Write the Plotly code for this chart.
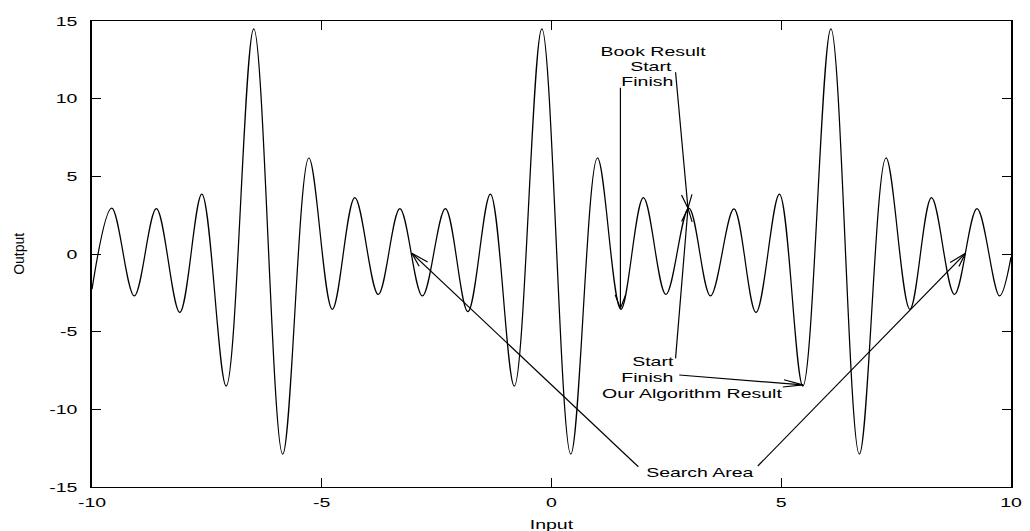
import math
import plotly.graph_objects as go

# Turning points of the response curve (Input, Output), left edge to right edge
curve_x = [-10.00, -9.57, -9.08, -8.60, -8.09, -7.61, -7.08, -6.48, -5.85, -5.28,
           -4.77, -4.28, -3.77, -3.30, -2.81, -2.31, -1.82, -1.33, -0.81, -0.21,
           0.42, 1.00, 1.51, 2.00, 2.49, 2.99, 3.46, 3.97, 4.45, 4.96,
           5.47, 6.08, 6.70, 7.28, 7.80, 8.27, 8.77, 9.26, 9.75, 10.00]
curve_y = [-2.27, 2.96, -2.70, 2.92, -3.76, 3.86, -8.50, 14.50, -12.88, 6.18,
           -3.56, 3.63, -2.60, 2.92, -2.70, 2.92, -3.71, 3.86, -8.50, 14.50,
           -12.88, 6.18, -3.56, 3.63, -2.60, 2.96, -2.70, 2.90, -3.76, 3.86,
           -8.50, 14.50, -12.88, 6.18, -3.56, 3.63, -2.60, 2.92, -2.70, -0.20]

# Axis ticks
x_ticks = [-10, -5, 0, 5, 10]
x_tick_labels = ["-10", "-5", "0", "5", "10"]
y_ticks = [-15, -10, -5, 0, 5, 10, 15]
y_tick_labels = ["-15", "-10", "-5", "0", "5", "10", "15"]

# Text labels placed in data coordinates
label_text = ["Book Result", "Start", "Finish", "Start", "Finish",
              "Our Algorithm Result", "Search Area"]
label_x = [2.20, 2.16, 2.09, 2.20, 2.09, 3.06, 3.23]
label_y = [13.03, 12.04, 11.08, -6.95, -7.97, -8.97, -14.04]

# Arrows: tail -> head, data coordinates
arrow_from_x = [1.50, 2.70, 2.70, 2.78, 1.89, 4.49]
arrow_from_y = [10.70, 11.70, -6.72, -7.79, -13.70, -13.65]
arrow_to_x = [1.50, 2.97, 2.97, 5.47, -3.04, 9.01]
arrow_to_y = [-3.50, 2.95, 2.95, -8.43, 0.05, 0.05]

# Page / plot geometry
W, H = 1030, 531
ML, MR, MT, MB = 92, 15, 21, 44
X_RANGE = [-10, 10]
Y_RANGE = [-15, 15]
plot_w = W - ML - MR
plot_h = H - MT - MB
px_x = plot_w / (X_RANGE[1] - X_RANGE[0])
px_y = plot_h / (Y_RANGE[1] - Y_RANGE[0])

FONT = "Liberation Sans, Arial, Helvetica, sans-serif"
HEAD_LEN = 14.0      # arrowhead length, px (before horizontal stretch)
HEAD_ANGLE = 15.0    # half-angle of the open arrowhead, degrees
STRETCH = 1.455      # horizontal stretch of the whole drawing

fig = go.Figure()

fig.add_trace(go.Scatter(
    x=curve_x, y=curve_y, mode="lines",
    line=dict(color="black", width=1.25, shape="spline", smoothing=1.0),
    hoverinfo="skip", showlegend=False,
))

# Arrow shafts with open V heads
ax, ay = [], []
for fx, fy, tx, ty in zip(arrow_from_x, arrow_from_y, arrow_to_x, arrow_to_y):
    dxp = (fx - tx) * px_x / STRETCH
    dyp = (fy - ty) * px_y
    a = math.atan2(dyp, dxp)
    heads = []
    for s in (-1, 1):
        b = a + s * math.radians(HEAD_ANGLE)
        hx = tx + HEAD_LEN * math.cos(b) * STRETCH / px_x
        hy = ty + HEAD_LEN * math.sin(b) / px_y
        heads.append((hx, hy))
    ax += [fx, tx, None, heads[0][0], tx, heads[1][0], None]
    ay += [fy, ty, None, heads[0][1], ty, heads[1][1], None]

fig.add_trace(go.Scatter(
    x=ax, y=ay, mode="lines",
    line=dict(color="black", width=1.2),
    hoverinfo="skip", showlegend=False,
))

annotations = []
for t, x, y in zip(label_text, label_x, label_y):
    annotations.append(dict(
        x=x, y=y, xref="x", yref="y", text=t, showarrow=False,
        xanchor="center", yanchor="middle",
        font=dict(family=FONT, size=13, color="black"),
    ))

# Axis titles
annotations.append(dict(
    x=(553.5 - ML) / plot_w, y=-(524 - (H - MB)) / plot_h,
    xref="paper", yref="paper", text="Input", showarrow=False,
    xanchor="center", yanchor="middle",
    font=dict(family=FONT, size=13, color="black"),
))
annotations.append(dict(
    x=-(ML - 18.5) / plot_w, y=0.5,
    xref="paper", yref="paper", text="Output", showarrow=False,
    textangle=-90, xanchor="center", yanchor="middle",
    font=dict(family=FONT, size=14, color="black"),
))

axis_common = dict(
    showgrid=False, zeroline=False, showline=True, linecolor="black",
    ticks="inside", ticklen=9, tickcolor="black", mirror="ticks",
    tickfont=dict(family=FONT, size=13, color="black"),
)

fig.update_layout(
    width=W, height=H, autosize=False,
    margin=dict(l=ML, r=MR, t=MT, b=MB, pad=0),
    paper_bgcolor="white", plot_bgcolor="white",
    showlegend=False,
    annotations=annotations,
    xaxis=dict(range=X_RANGE, tickmode="array", tickvals=x_ticks,
               ticktext=x_tick_labels, linewidth=1.3, tickwidth=1.3,
               ticklabelstandoff=3, **axis_common),
    yaxis=dict(range=Y_RANGE, tickmode="array", tickvals=y_ticks,
               ticktext=y_tick_labels, linewidth=2, tickwidth=1.2,
               ticklabelstandoff=10, **axis_common),
)

# Widen the glyphs horizontally (the drawing is stretched in x)
stretch_js = """
var gd = document.getElementById('{plot_id}');
gd.querySelectorAll('text').forEach(function (t) {
  if (t.textContent === 'Output') { return; }
  var x = parseFloat(t.getAttribute('x')) || 0;
  var tr = t.getAttribute('transform') || '';
  t.setAttribute('transform', tr + ' translate(' + x + ',0) scale(1.5,1) translate(' + (-x) + ',0)');
});
"""

fig.write_html("out.html", config={"displayModeBar": False}, post_script=stretch_js)
